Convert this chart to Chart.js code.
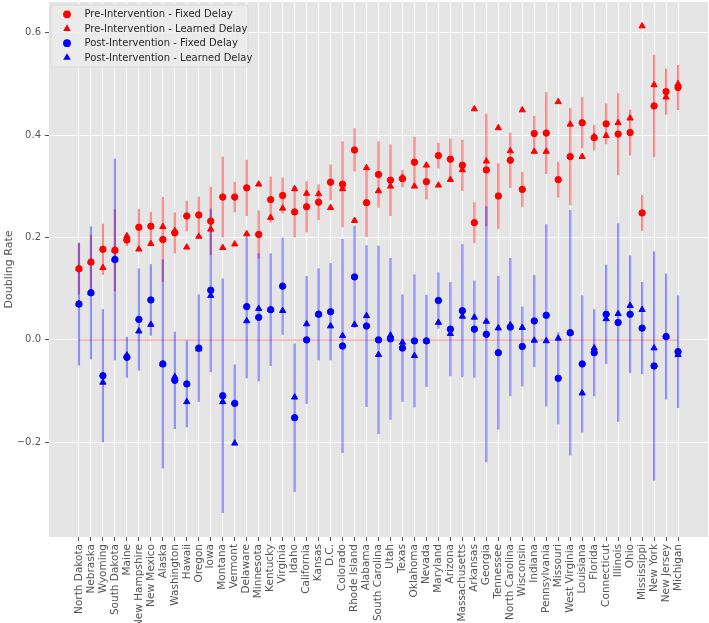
<!DOCTYPE html>
<html>
<head>
<meta charset="utf-8">
<script src="https://cdn.jsdelivr.net/npm/chart.js@4/dist/chart.umd.min.js"></script>
<style>
  html, body { margin: 0; padding: 0; background: #fff; }
  #wrap { width: 709px; height: 623px; }
</style>
</head>
<body>
<div id="wrap"><canvas id="doublingChart" width="709" height="623"></canvas></div>
<script>
const states = ["North Dakota", "Nebraska", "Wyoming", "South Dakota", "Maine", "New Hampshire", "New Mexico", "Alaska",
	"Washington", "Hawaii", "Oregon", "Iowa", "Montana", "Vermont", "Delaware", "Minnesota", "Kentucky", "Virginia",
	"Idaho", "California", "Kansas", "D.C.", "Colorado", "Rhode Island", "Alabama", "South Carolina", "Utah", "Texas",
	"Oklahoma", "Nevada", "Maryland", "Arizona", "Massachusetts", "Arkansas", "Georgia", "Tennessee", "North Carolina",
	"Wisconsin", "Indiana", "Pennsylvania", "Missouri", "West Virginia", "Louisiana", "Florida", "Connecticut",
	"Illinois", "Ohio", "Mississippi", "New York", "New Jersey", "Michigan"];

const preFixed = [0.139, 0.152, 0.177, 0.175, 0.195, 0.220, 0.222, 0.196, 0.209, 0.242, 0.244, 0.232, 0.279, 0.279,
	0.297, 0.206, 0.274, 0.282, 0.250, 0.260, 0.269, 0.308, 0.304, 0.371, 0.268, 0.323, 0.312, 0.315, 0.347, 0.309,
	0.360, 0.353, 0.341, 0.229, 0.332, 0.281, 0.351, 0.294, 0.403, 0.404, 0.313, 0.358, 0.424, 0.395, 0.422, 0.402,
	0.405, 0.248, 0.457, 0.485, 0.493];
const preFixedErr = [0.050, 0.053, 0.050, 0.080, 0.012, 0.036, 0.028, 0.083, 0.040, 0.030, 0.036, 0.067, 0.079, 0.030,
	0.055, 0.047, 0.045, 0.035, 0.050, 0.050, 0.035, 0.035, 0.084, 0.042, 0.067, 0.065, 0.070, 0.017, 0.050, 0.035,
	0.025, 0.040, 0.050, 0.040, 0.110, 0.064, 0.054, 0.034, 0.035, 0.080, 0.035, 0.095, 0.050, 0.025, 0.040, 0.080,
	0.045, 0.035, 0.100, 0.045, 0.044];
const preLearned = [0.139, 0.152, 0.141, 0.175, 0.203, 0.177, 0.188, 0.221, 0.213, 0.181, 0.202, 0.216, 0.180, 0.187,
	0.207, 0.304, 0.239, 0.257, 0.295, 0.286, 0.285, 0.258, 0.295, 0.233, 0.336, 0.291, 0.300, 0.317, 0.300, 0.341,
	0.302, 0.313, 0.332, 0.451, 0.349, 0.414, 0.369, 0.449, 0.368, 0.368, 0.465, 0.421, 0.358, 0.397, 0.399, 0.424,
	0.433, 0.613, 0.498, 0.474, 0.500];
const postFixed = [0.070, 0.092, -0.070, 0.157, -0.034, 0.040, 0.078, -0.047, -0.079, -0.086, -0.016, 0.097, -0.109,
	-0.124, 0.065, 0.044, 0.059, 0.105, -0.152, 0.000, 0.050, 0.055, -0.012, 0.123, 0.027, 0.000, 0.002, -0.016,
	-0.002, -0.002, 0.077, 0.021, 0.057, 0.021, 0.011, -0.025, 0.025, -0.013, 0.037, 0.048, -0.075, 0.014, -0.047,
	-0.025, 0.050, 0.034, 0.050, 0.023, -0.051, 0.0065, -0.023];
const postFixedErr = [0.120, 0.130, 0.130, 0.197, 0.040, 0.100, 0.070, 0.204, 0.095, 0.085, 0.105, 0.160, 0.229,
	0.076, 0.140, 0.125, 0.110, 0.095, 0.145, 0.125, 0.090, 0.095, 0.209, 0.100, 0.158, 0.184, 0.158, 0.105, 0.130,
	0.090, 0.055, 0.092, 0.130, 0.095, 0.250, 0.150, 0.135, 0.078, 0.090, 0.178, 0.090, 0.240, 0.134, 0.085, 0.097,
	0.194, 0.115, 0.090, 0.224, 0.123, 0.110];
const postLearned = [0.070, 0.092, -0.083, 0.157, -0.030, 0.017, 0.030, -0.047, -0.072, -0.121, -0.018, 0.0865,
	-0.121, -0.202, 0.037, 0.061, 0.059, 0.057, -0.112, 0.031, 0.050, 0.027, 0.008, 0.030, 0.047, -0.029, 0.009,
	-0.005, -0.031, -0.002, 0.034, 0.012, 0.046, 0.044, 0.036, 0.023, 0.029, 0.024, -0.001, -0.002, 0.003, 0.014,
	-0.104, -0.016, 0.041, 0.051, 0.067, 0.059, -0.016, 0.0065, -0.029];

const yTicks = [-0.2, 0.0, 0.2, 0.4, 0.6];

const FONT = "'DejaVu Sans', sans-serif";

function toPoints(values) {
	return values.map((v, i) => ({ x: i, y: v }));
}

const plotBackground = {
	id: "plotBackground",
	beforeDraw(chart) {
		const { ctx, chartArea } = chart;
		ctx.save();
		ctx.fillStyle = "#ffffff";
		ctx.fillRect(0, 0, chart.width, chart.height);
		ctx.fillStyle = "#e5e5e5";
		ctx.fillRect(chartArea.left, chartArea.top, chartArea.width, chartArea.height);
		ctx.restore();
	},
};

// zero line + vertical error bars for the fixed-delay series, under the markers
const errorBars = {
	id: "errorBars",
	beforeDatasetsDraw(chart) {
		const { ctx, chartArea } = chart;
		const x = chart.scales.x;
		const y = chart.scales.y;
		ctx.save();
		ctx.beginPath();
		ctx.rect(chartArea.left, chartArea.top, chartArea.width, chartArea.height);
		ctx.clip();

		ctx.strokeStyle = "rgba(255, 0, 0, 0.25)";
		ctx.lineWidth = 1.8;
		ctx.beginPath();
		ctx.moveTo(x.getPixelForValue(0), y.getPixelForValue(0));
		ctx.lineTo(x.getPixelForValue(states.length - 1), y.getPixelForValue(0));
		ctx.stroke();

		const series = [
			[preFixed, preFixedErr, "rgba(255, 0, 0, 0.42)"],
			[postFixed, postFixedErr, "rgba(0, 0, 255, 0.4)"],
		];
		ctx.lineWidth = 2.2;
		series.forEach(([vals, errs, color]) => {
			ctx.strokeStyle = color;
			vals.forEach((v, i) => {
				const px = x.getPixelForValue(i);
				ctx.beginPath();
				ctx.moveTo(px, y.getPixelForValue(v - errs[i]));
				ctx.lineTo(px, y.getPixelForValue(v + errs[i]));
				ctx.stroke();
			});
		});
		ctx.restore();
	},
};

const boxLegend = {
	id: "boxLegend",
	afterDraw(chart) {
		const { ctx } = chart;
		const left = 51, top = 5, w = 197, h = 62;
		ctx.save();
		ctx.fillStyle = "rgba(236, 236, 236, 0.85)";
		ctx.strokeStyle = "#d4d4d4";
		ctx.lineWidth = 0.8;
		ctx.beginPath();
		ctx.roundRect(left, top, w, h, 3);
		ctx.fill();
		ctx.stroke();

		ctx.font = "10px " + FONT;
		ctx.textBaseline = "middle";
		ctx.textAlign = "left";
		chart.data.datasets.forEach((ds, i) => {
			const cy = 14.3 + i * 14.45;
			ctx.fillStyle = ds.backgroundColor;
			ctx.strokeStyle = ds.borderColor;
			Chart.helpers.drawPoint(ctx, {
				pointStyle: ds.pointStyle,
				radius: ds.pointStyle === "triangle" ? 4.4 : 3.9,
				rotation: 0,
				borderWidth: 0,
			}, 67, cy);
			ctx.fillStyle = "#262626";
			ctx.fillText(ds.label, 84.5, cy + 0.5);
		});
		ctx.restore();
	},
};

function makeSeries(label, values, color, style, order) {
	return {
		label: label,
		data: toPoints(values),
		backgroundColor: color,
		borderColor: color,
		borderWidth: 1,
		pointStyle: style,
		pointRadius: style === "triangle" ? 3.6 : 3.2,
		order: order,
	};
}

document.addEventListener("DOMContentLoaded", function () {
	const ctx = document.getElementById("doublingChart").getContext("2d");

	new Chart(ctx, {
		type: "scatter",
		data: {
			datasets: [
				makeSeries("Pre-Intervention - Fixed Delay", preFixed, "#ff0000", "circle", 4),
				makeSeries("Pre-Intervention - Learned Delay", preLearned, "#ff0000", "triangle", 3),
				makeSeries("Post-Intervention - Fixed Delay", postFixed, "#0000ff", "circle", 2),
				makeSeries("Post-Intervention - Learned Delay", postLearned, "#0000ff", "triangle", 1),
			],
		},
		options: {
			responsive: false,
			animation: false,
			layout: { autoPadding: false, padding: { top: 2, right: 1, left: 0, bottom: 0 } },
			plugins: {
				legend: { display: false },
				tooltip: { enabled: false },
			},
			scales: {
				x: {
					type: "linear",
					min: -2.5,
					max: 52.5,
					afterBuildTicks: (axis) => {
						axis.ticks = states.map((s, i) => ({ value: i }));
					},
					afterFit: (axis) => {
						axis.height = 86;
						axis.paddingLeft = 0;
						axis.paddingRight = 0;
					},
					border: { display: false },
					grid: { color: "#ffffff", lineWidth: 1, tickColor: "#555555", tickLength: 4 },
					ticks: {
						autoSkip: false,
						maxRotation: 90,
						minRotation: 90,
						padding: 3,
						color: "#555555",
						font: { family: FONT, size: 10.5 },
						callback: (value) => states[value],
					},
				},
				y: {
					type: "linear",
					min: -0.385,
					max: 0.66,
					afterBuildTicks: (axis) => {
						axis.ticks = yTicks.map((v) => ({ value: v }));
					},
					afterFit: (axis) => {
						axis.width = 49;
						axis.paddingTop = 0;
						axis.paddingBottom = 0;
					},
					border: { display: false },
					grid: { color: "#ffffff", lineWidth: 1, tickColor: "#555555", tickLength: 4 },
					ticks: {
						padding: 4,
						color: "#555555",
						font: { family: FONT, size: 10 },
						callback: (value) => (value < 0 ? "\u2212" : "") + Math.abs(value).toFixed(1),
					},
					title: {
						display: true,
						text: "Doubling Rate",
						color: "#555555",
						font: { family: FONT, size: 11 },
						padding: { top: 3, bottom: 0 },
					},
				},
			},
		},
		plugins: [plotBackground, errorBars, boxLegend],
	});
});
</script>
</body>
</html>
